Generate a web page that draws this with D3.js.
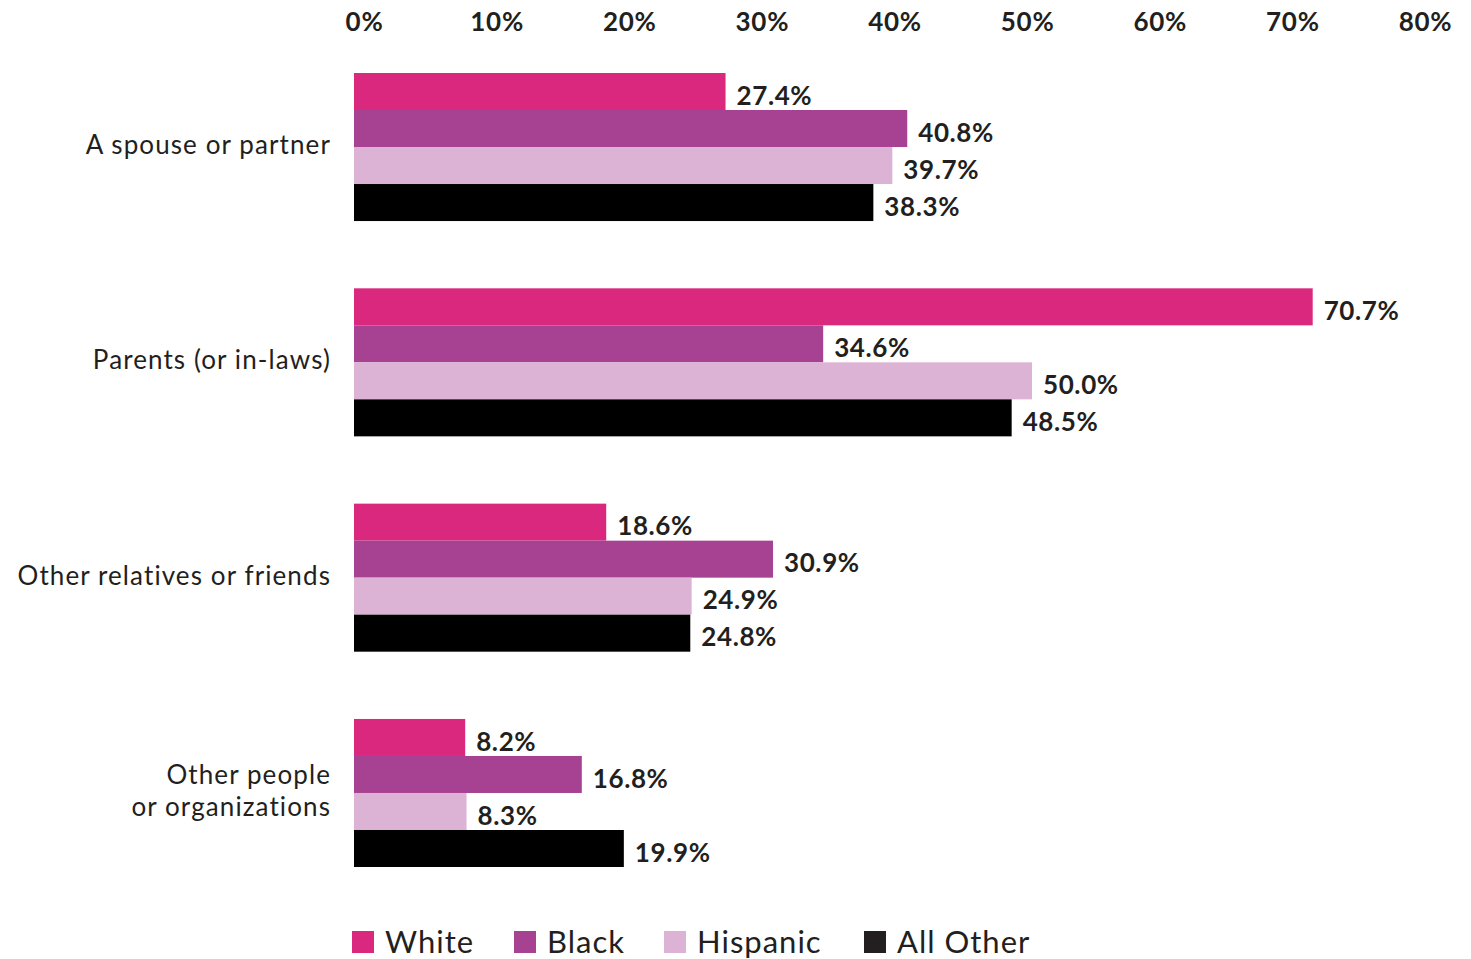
<!DOCTYPE html>
<html>
<head>
<meta charset="utf-8">
<script src="https://cdn.jsdelivr.net/npm/d3@7"></script>
<style>
  body { margin: 0; background: #fff; }
  svg { display: block; }
  text { font-family: Lato, "Noto Sans", sans-serif; fill: #231f20; }
</style>
</head>
<body>
<svg width="1471" height="959"></svg>
<script>
// data
const categories = [
  ["A spouse or partner"],
  ["Parents (or in-laws)"],
  ["Other relatives or friends"],
  ["Other people", "or organizations"]
];
const series = ["White", "Black", "Hispanic", "All Other"];
const colors = ["#da287f", "#a74293", "#dcb2d5", "#000000"];
const white = [27.4, 70.7, 18.6, 8.2];
const black = [40.8, 34.6, 30.9, 16.8];
const hispanic = [39.7, 50.0, 24.9, 8.3];
const allOther = [38.3, 48.5, 24.8, 19.9];
const tickValues = [0, 10, 20, 30, 40, 50, 60, 70, 80];

const values = [white, black, hispanic, allOther];
const catKeys = categories.map((c) => c.join(" "));

const svg = d3.select("svg");

// scales
let x = d3.scaleLinear().domain([0, 50]).range([354, 1032]);
let xTicks = d3.scaleLinear().domain([0, 80]).range([364, 1425]);
let y = d3.scaleBand().domain(catKeys).range([73, 867]).paddingInner(0.3125).paddingOuter(0);
let ySub = d3.scaleBand().domain(series).range([0, y.bandwidth()]);
let color = d3.scaleOrdinal().domain(series).range(colors);

// top axis (tick labels only)
let xAxis = d3.axisTop(xTicks).tickValues(tickValues).tickSize(0).tickFormat((d) => d + "%");
svg
  .append("g")
  .attr("transform", "translate(0, 34)")
  .call(xAxis)
  .call((g) => g.select(".domain").remove())
  .selectAll("text")
  .style("font-family", "Lato, sans-serif")
  .style("font-size", "26px")
  .style("font-weight", "bold")
  .style("letter-spacing", "0.7px")
  .attr("fill", "#231f20");

// bars
const rows = [];
catKeys.forEach((c, i) => {
  series.forEach((s, j) => {
    rows.push({ cat: c, series: s, value: values[j][i] });
  });
});

const groups = svg
  .selectAll("g.group")
  .data(catKeys)
  .enter()
  .append("g")
  .attr("class", "group")
  .attr("transform", (d) => "translate(0," + y(d) + ")");

groups
  .selectAll("rect")
  .data((c) => rows.filter((r) => r.cat == c))
  .enter()
  .append("rect")
  .attr("x", x(0))
  .attr("y", (d) => ySub(d.series))
  .attr("width", (d) => x(d.value) - x(0))
  .attr("height", ySub.bandwidth())
  .attr("fill", (d) => color(d.series));

groups
  .selectAll("text.val")
  .data((c) => rows.filter((r) => r.cat == c))
  .enter()
  .append("text")
  .attr("class", "val")
  .attr("x", (d) => x(d.value) + 11)
  .attr("y", (d) => ySub(d.series) + ySub.bandwidth() / 2 + 4)
  .attr("dy", "0.35em")
  .style("font-size", "26px")
  .style("font-weight", "bold")
  .style("letter-spacing", "0.6px")
  .text((d) => d.value.toFixed(1) + "%");

// category labels
categories.forEach((lines, i) => {
  const cy = y(catKeys[i]) + y.bandwidth() / 2;
  const t = svg
    .append("text")
    .attr("text-anchor", "end")
    .attr("x", 331)
    .attr("y", cy - ((lines.length - 1) * 32) / 2 - 2)
    .style("font-size", "26px")
    .style("letter-spacing", "1.1px");
  lines.forEach((l, k) => {
    t.append("tspan").attr("x", 331).attr("dy", k == 0 ? "0.35em" : "32px").text(l);
  });
});

// legend
const legendX = [352, 514, 664, 864];
const legend = svg
  .selectAll("g.legend")
  .data(series)
  .enter()
  .append("g")
  .attr("class", "legend")
  .attr("transform", (d, i) => "translate(" + legendX[i] + ",931)");

legend
  .append("rect")
  .attr("width", 22)
  .attr("height", 22)
  .attr("fill", (d) => (d == "All Other" ? "#231f20" : color(d)));

legend
  .append("text")
  .attr("x", 33)
  .attr("y", 11)
  .attr("dy", "0.35em")
  .style("font-size", "31px")
  .style("letter-spacing", "1px")
  .text((d) => d);
</script>
</body>
</html>
